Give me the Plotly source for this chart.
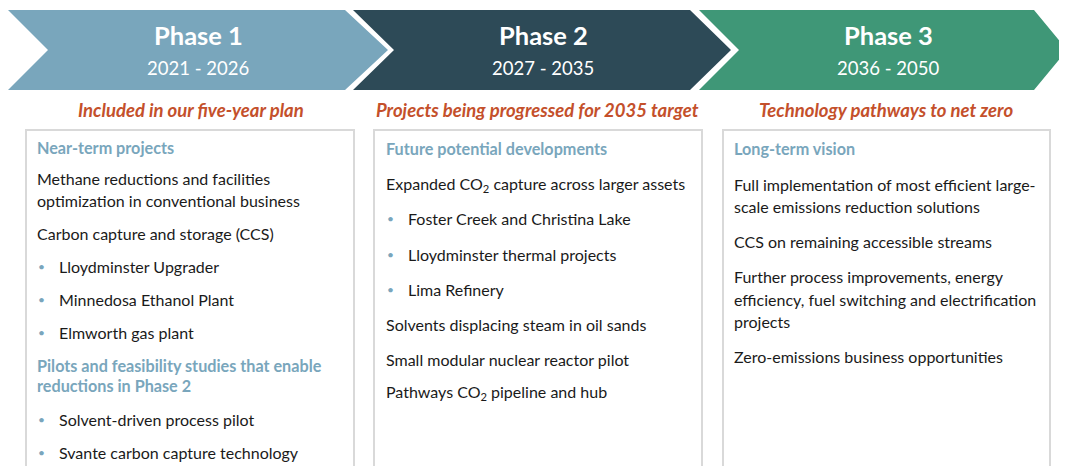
import plotly.graph_objects as go

# ---- content ----
phase_titles = ["Phase 1", "Phase 2", "Phase 3"]
phase_years = ["2021 - 2026", "2027 - 2035", "2036 - 2050"]
phase_subtitles = [
    "Included in our five-year plan",
    "Projects being progressed for 2035 target",
    "Technology pathways to net zero",
]
phase_colors = ["#79A6BC", "#2D4A57", "#3F9777"]

# each item: (style, text)  style: h = heading, t = text, b = bullet
box1_items = [
    ("h", "Near-term projects"),
    ("t", "Methane reductions and facilities"),
    ("t", "optimization in conventional business"),
    ("t", "Carbon capture and storage (CCS)"),
    ("b", "Lloydminster Upgrader"),
    ("b", "Minnedosa Ethanol Plant"),
    ("b", "Elmworth gas plant"),
    ("h", "Pilots and feasibility studies that enable"),
    ("h", "reductions in Phase 2"),
    ("b", "Solvent-driven process pilot"),
    ("b", "Svante carbon capture technology"),
]
box2_items = [
    ("h", "Future potential developments"),
    ("t", "Expanded CO<sub>2</sub> capture across larger assets"),
    ("b", "Foster Creek and Christina Lake"),
    ("b", "Lloydminster thermal projects"),
    ("b", "Lima Refinery"),
    ("t", "Solvents displacing steam in oil sands"),
    ("t", "Small modular nuclear reactor pilot"),
    ("t", "Pathways CO<sub>2</sub> pipeline and hub"),
]
box3_items = [
    ("h", "Long-term vision"),
    ("t", "Full implementation of most efficient large-"),
    ("t", "scale emissions reduction solutions"),
    ("t", "CCS on remaining accessible streams"),
    ("t", "Further process improvements, energy"),
    ("t", "efficiency, fuel switching and electrification"),
    ("t", "projects"),
    ("t", "Zero-emissions business opportunities"),
]

# ---- layout (pixel positions) ----
W, H = 1067, 466
OFF = 8  # page body margin
box1_y = [147, 178, 200, 233, 266, 299, 332, 365, 385, 419, 452]
box2_y = [148, 184, 218, 254, 289, 324, 359, 392]
box3_y = [148, 184, 206, 241, 276, 299, 321, 356]

chev = [  # left, notch, top-right, tip
    (8, 48, 345, 388),
    (353, 394, 690, 731),
    (699, 739, 1034, 1067),
]
centers = [198, 543, 888]
sub_centers = [191, 537, 886]
boxes = [(26, 354), (374, 702), (723, 1050)]
box_text_x = [35, 384, 732]

FONT = "Lato"
HEAD_BLUE = "#79A6BC"
ORANGE = "#C4502B"
TXT = 16
HEAD = 16.2

fig = go.Figure()
shapes = []
annotations = []

for i in range(3):
    l, n, r, t = chev[i]
    path = f"M {l},10 L {r},10 L {t},50 L {r},90 L {l},90 L {n},50 Z"
    shapes.append(dict(type="path", path=path, fillcolor=phase_colors[i],
                       line=dict(width=0), layer="below", xref="x", yref="y"))
    annotations.append(dict(x=centers[i], y=35, text=f"<b>{phase_titles[i]}</b>",
                            showarrow=False, xanchor="center", yanchor="middle",
                            font=dict(family=FONT, size=25.5, color="white")))
    annotations.append(dict(x=centers[i], y=68, text=phase_years[i],
                            showarrow=False, xanchor="center", yanchor="middle",
                            font=dict(family=FONT, size=18.5, color="white")))
    annotations.append(dict(x=sub_centers[i], y=110, text=f"<b><i>{phase_subtitles[i]}</i></b>",
                            showarrow=False, xanchor="center", yanchor="middle",
                            font=dict(family=FONT, size=18.5, color=ORANGE)))
    bx0, bx1 = boxes[i]
    shapes.append(dict(type="rect", x0=bx0, x1=bx1, y0=130, y1=490,
                       line=dict(color="#D9D9D9", width=2), fillcolor="rgba(0,0,0,0)",
                       xref="x", yref="y"))

for items, ys, x0 in [(box1_items, box1_y, box_text_x[0]),
                      (box2_items, box2_y, box_text_x[1]),
                      (box3_items, box3_y, box_text_x[2])]:
    for (style, text), y in zip(items, ys):
        if style == "h":
            annotations.append(dict(x=x0, y=y, text=f"<b>{text}</b>", showarrow=False,
                                    xanchor="left", yanchor="middle",
                                    font=dict(family=FONT, size=HEAD, color=HEAD_BLUE)))
        elif style == "t":
            annotations.append(dict(x=x0, y=y, text=text, showarrow=False,
                                    xanchor="left", yanchor="middle",
                                    font=dict(family=FONT, size=TXT, color="#1A1A1A")))
        else:
            annotations.append(dict(x=x0 + 6, y=y, text="•", showarrow=False,
                                    xanchor="center", yanchor="middle",
                                    font=dict(family=FONT, size=12, color=HEAD_BLUE)))
            annotations.append(dict(x=x0 + 22, y=y, text=text, showarrow=False,
                                    xanchor="left", yanchor="middle",
                                    font=dict(family=FONT, size=TXT, color="#1A1A1A")))

fig.update_layout(
    width=W - OFF, height=H - OFF,
    margin=dict(l=0, r=0, t=0, b=0),
    paper_bgcolor="white", plot_bgcolor="white",
    xaxis=dict(range=[OFF, W], visible=False, fixedrange=True),
    yaxis=dict(range=[H, OFF], visible=False, fixedrange=True),
    shapes=shapes, annotations=annotations,
    showlegend=False,
)
fig.write_html("out.html", config={"displayModeBar": False})
